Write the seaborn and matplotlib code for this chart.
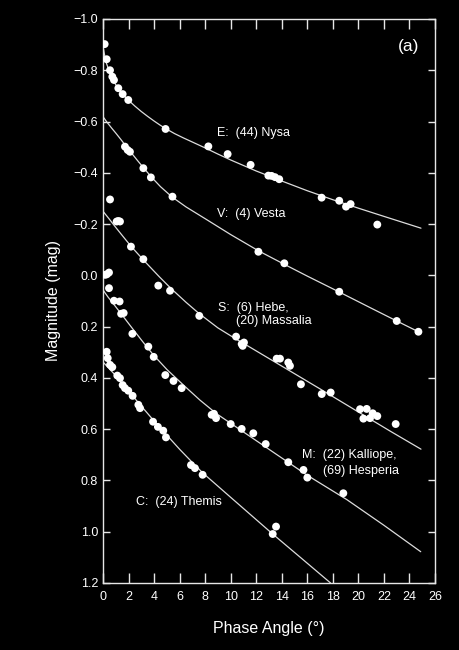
import matplotlib
matplotlib.use("Agg")
import matplotlib.pyplot as plt
import seaborn as sns
import numpy as np

# ---------------- data ----------------
# E: (44) Nysa
E_x = [0.13, 0.29, 0.55, 0.73, 0.86, 1.2, 1.54, 1.98, 4.9, 8.25, 9.76, 11.56,
       12.95, 13.2, 13.47, 13.8, 17.12, 18.5, 19.03, 19.39, 21.48]
E_y = [-0.902, -0.843, -0.800, -0.775, -0.762, -0.730, -0.707, -0.684, -0.571,
       -0.503, -0.473, -0.431, -0.389, -0.388, -0.383, -0.375, -0.303, -0.291,
       -0.268, -0.278, -0.198]
E_fit_x = [0, 0.1, 0.25, 0.5, 0.8, 1.2, 1.6, 2.0, 2.5, 3.0, 3.5, 4.0, 4.5, 5.0,
           5.6, 6.3, 7.0, 8.0, 9.0, 10.0, 12.0, 14.0, 16.0, 18.0, 20.0, 22.0,
           24.9]
E_fit_y = [-0.895, -0.865, -0.83, -0.795, -0.76, -0.728, -0.703, -0.683, -0.66,
           -0.639, -0.62, -0.602, -0.585, -0.57, -0.553, -0.536, -0.52, -0.497,
           -0.473, -0.45, -0.407, -0.368, -0.33, -0.295, -0.262, -0.23, -0.184]

# V: (4) Vesta
V_x = [1.72, 1.93, 2.11, 3.16, 3.75, 5.44, 12.17, 14.2, 18.5, 23.0, 24.7]
V_y = [-0.502, -0.489, -0.482, -0.418, -0.382, -0.307, -0.092, -0.047, 0.064,
       0.178, 0.220]
V_fit_x = [0, 0.3, 0.7, 1.0, 1.4, 1.8, 2.2, 2.7, 3.2, 3.8, 4.5, 5.4, 6.5, 8.0,
           10.0, 12.2, 14.2, 16.0, 18.5, 21.0, 23.0, 24.7]
V_fit_y = [-0.619, -0.598, -0.573, -0.555, -0.53, -0.504, -0.479, -0.448,
           -0.418, -0.383, -0.346, -0.306, -0.267, -0.221, -0.159, -0.095,
           -0.043, 0.003, 0.065, 0.128, 0.178, 0.22]

# S: (6) Hebe, (20) Massalia
S_x = [0.55, 1.07, 1.2, 1.33, 2.19, 3.16, 4.33, 5.25, 7.54, 10.42, 10.86, 10.94,
       11.04, 13.6, 13.86, 14.51, 14.64, 15.5, 17.13, 17.83, 20.13, 20.65,
       20.39, 20.91, 21.12, 21.48, 22.92]
S_y = [-0.296, -0.21, -0.212, -0.21, -0.112, -0.063, 0.040, 0.060, 0.158, 0.239,
       0.268, 0.275, 0.262, 0.325, 0.325, 0.340, 0.353, 0.425, 0.463, 0.457,
       0.522, 0.521, 0.559, 0.557, 0.538, 0.549, 0.580]
S_fit_x = [0, 0.5, 1.0, 1.5, 2.2, 3.2, 4.4, 5.3, 6.5, 7.5, 9.0, 10.4, 11.5, 14.0,
           17.0, 20.0, 22.5, 24.9]
S_fit_y = [-0.25, -0.219, -0.187, -0.156, -0.113, -0.058, 0.005, 0.05, 0.105,
           0.148, 0.205, 0.248, 0.28, 0.354, 0.443, 0.533, 0.608, 0.678]

# M: (22) Kalliope, (69) Hesperia
M_x = [0.16, 0.3, 0.47, 0.47, 0.86, 1.3, 1.42, 1.62, 2.3, 3.55, 3.97, 4.88,
       5.52, 6.16, 8.51, 8.69, 8.85, 10.0, 10.86, 11.77, 12.74, 14.51, 15.7,
       16.0, 18.82]
M_y = [-0.002, -0.004, -0.011, 0.050, 0.099, 0.102, 0.150, 0.147, 0.228, 0.278,
       0.318, 0.389, 0.412, 0.440, 0.544, 0.540, 0.557, 0.580, 0.599, 0.616,
       0.658, 0.729, 0.759, 0.789, 0.850]
M_fit_x = [0, 0.4, 0.8, 1.5, 2.3, 3.1, 3.94, 5.0, 6.3, 7.6, 8.9, 10.5, 13.1,
           16.0, 19.1, 22.0, 24.88]
M_fit_y = [0.057, 0.085, 0.11, 0.155, 0.207, 0.258, 0.31, 0.367, 0.428, 0.487,
           0.54, 0.594, 0.682, 0.78, 0.875, 0.975, 1.078]

# C: (24) Themis
C_x = [0.29, 0.37, 0.55, 0.73, 1.12, 1.33, 1.54, 1.72, 1.98, 2.32, 2.77, 2.9,
       3.92, 4.3, 4.72, 4.93, 6.89, 7.2, 7.8, 13.29, 13.55]
C_y = [0.298, 0.323, 0.349, 0.358, 0.391, 0.401, 0.428, 0.440, 0.450, 0.470,
       0.505, 0.518, 0.571, 0.591, 0.606, 0.632, 0.740, 0.752, 0.778, 1.009,
       0.980]
C_fit_x = [0, 0.6, 1.07, 1.6, 2.37, 3.0, 3.81, 4.9, 6.03, 7.0, 7.8, 10.0, 13.29,
           15.5, 17.82]
C_fit_y = [0.338, 0.37, 0.395, 0.428, 0.473, 0.51, 0.557, 0.618, 0.68, 0.73,
           0.77, 0.866, 1.009, 1.102, 1.2]

x_ticks = [0, 2, 4, 6, 8, 10, 12, 14, 16, 18, 20, 22, 24, 26]
y_ticks = [-1.0, -0.8, -0.6, -0.4, -0.2, 0.0, 0.2, 0.4, 0.6, 0.8, 1.0, 1.2]
y_tick_labels = ["\u22121.0", "\u22120.8", "\u22120.6", "\u22120.4", "\u22120.2",
                 "0.0", "0.2", "0.4", "0.6", "0.8", "1.0", "1.2"]

labels = ["E:  (44) Nysa", "V:  (4) Vesta", "S:  (6) Hebe,", "(20) Massalia",
          "M:  (22) Kalliope,", "(69) Hesperia", "C:  (24) Themis"]
label_pos = [(8.9, -0.554), (8.9, -0.238), (9.0, 0.128), (10.4, 0.18),
             (15.6, 0.70), (17.2, 0.762), (2.6, 0.885)]

# ---------------- style ----------------
sns.set_style("ticks")
plt.rcParams['font.family'] = ['Liberation Sans', 'DejaVu Sans']
fg = "#e6e6e6"

fig = plt.figure(figsize=(4.6, 6.5), dpi=100, facecolor="black")
ax = fig.add_axes([0.2239, 0.1031, 0.7218, 0.8677])
ax.set_facecolor("black")

series = [(E_x, E_y, E_fit_x, E_fit_y), (V_x, V_y, V_fit_x, V_fit_y),
          (S_x, S_y, S_fit_x, S_fit_y), (M_x, M_y, M_fit_x, M_fit_y),
          (C_x, C_y, C_fit_x, C_fit_y)]
for px, py, fx, fy in series:
    sns.lineplot(x=fx, y=fy, ax=ax, color="#dcdcdc", lw=0.9, sort=False,
                 estimator=None, zorder=2)
    sns.scatterplot(x=px, y=py, ax=ax, color="white", s=32, edgecolor="none",
                    linewidth=0, zorder=3)

ax.set_xlim(0, 26)
ax.set_ylim(1.2, -1.0)
ax.set_xticks(x_ticks)
ax.set_xticklabels([str(t) for t in x_ticks])
ax.set_yticks(y_ticks)
ax.set_yticklabels(y_tick_labels)

for s in ax.spines.values():
    s.set_color(fg)
    s.set_linewidth(1.0)
ax.tick_params(axis="both", direction="in", top=True, right=True, color=fg,
               labelcolor="white", labelsize=9, width=1.0)
ax.tick_params(axis="x", length=7, pad=5.5)
ax.tick_params(axis="y", length=5, pad=3.5)

ax.set_xlabel("Phase Angle (\u00b0)", color="white", fontsize=11.5, labelpad=13)
ax.set_ylabel("Magnitude (mag)", color="white", fontsize=11.5, labelpad=9)

for txt, (tx, ty) in zip(labels, label_pos):
    ax.text(tx, ty, txt, color="white", fontsize=9, ha="left", va="center")
ax.text(24.8, -0.892, "(a)", color="white", fontsize=12.5, ha="right", va="center")

fig.savefig("out.png", dpi=100, facecolor="black")
